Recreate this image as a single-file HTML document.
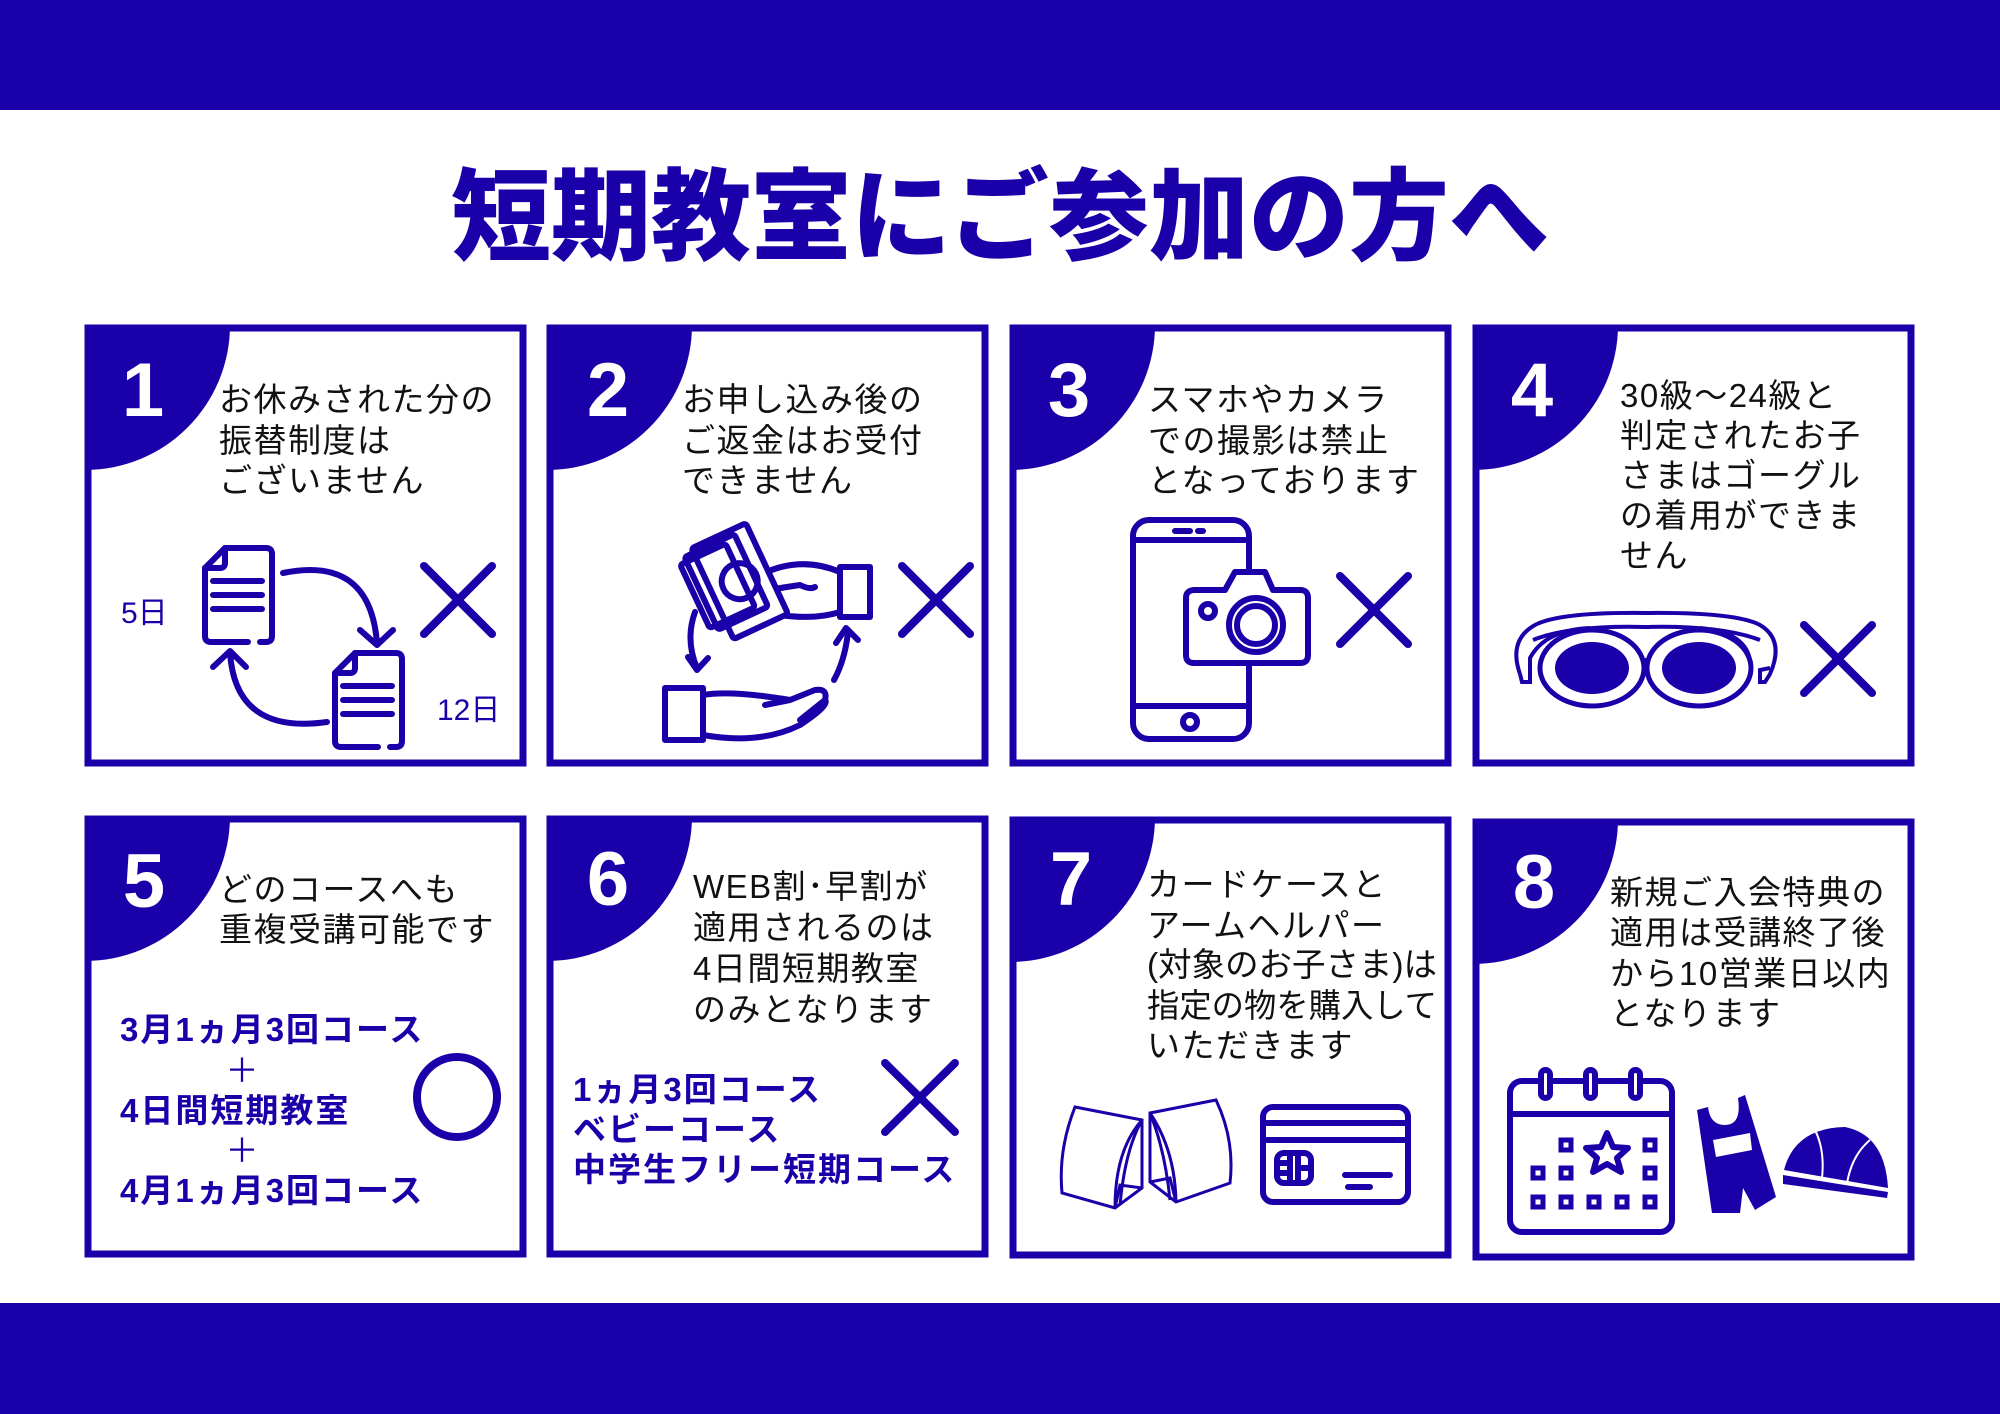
<!DOCTYPE html>
<html><head><meta charset="utf-8"><style>
html,body{margin:0;padding:0;background:#fff}
svg{display:block}
text{font-family:"Liberation Sans","Noto Sans CJK JP",sans-serif}
.t{font-size:33px;fill:#111;letter-spacing:1.5px}
.b{font-size:33px;fill:#1a00a8;font-weight:bold;letter-spacing:2px}
.n{font-size:76px;fill:#fff;font-weight:bold;text-anchor:middle}
.ic{fill:none;stroke:#1a00a8;stroke-width:6;stroke-linecap:round;stroke-linejoin:round}
.x{stroke:#1a00a8;stroke-width:8;stroke-linecap:round}
</style></head><body>
<svg width="2000" height="1414" viewBox="0 0 2000 1414" xmlns="http://www.w3.org/2000/svg">
<rect x="0" y="0" width="2000" height="110" fill="#1a00a8"/>
<rect x="0" y="1303" width="2000" height="111" fill="#1a00a8"/>
<text x="1000" y="252" text-anchor="middle" style="font-size:100px;font-weight:900;fill:#1a00a8">短期教室にご参加の方へ</text>

<g fill="none" stroke="#1a00a8" stroke-width="7">
<rect x="88" y="328" width="435" height="435"/>
<rect x="550" y="328" width="435" height="435"/>
<rect x="1013" y="328" width="435" height="435"/>
<rect x="1476" y="328" width="435" height="435"/>
<rect x="88" y="819" width="435" height="435"/>
<rect x="550" y="819" width="435" height="435"/>
<rect x="1013" y="820" width="435" height="435"/>
<rect x="1476" y="822" width="435" height="435"/>
</g>
<g fill="#1a00a8">
<path d="M85 325 H230 A145 145 0 0 1 85 470 Z"/>
<path d="M547 325 H692 A145 145 0 0 1 547 470 Z"/>
<path d="M1010 325 H1155 A145 145 0 0 1 1010 470 Z"/>
<path d="M1473 325 H1618 A145 145 0 0 1 1473 470 Z"/>
<path d="M85 816 H230 A145 145 0 0 1 85 961 Z"/>
<path d="M547 816 H692 A145 145 0 0 1 547 961 Z"/>
<path d="M1010 817 H1155 A145 145 0 0 1 1010 962 Z"/>
<path d="M1473 819 H1618 A145 145 0 0 1 1473 964 Z"/>
</g>
<text class="n" x="143" y="416">1</text>
<text class="n" x="608" y="416">2</text>
<text class="n" x="1069" y="416">3</text>
<text class="n" x="1532" y="416">4</text>
<text class="n" x="144" y="907">5</text>
<text class="n" x="608" y="905">6</text>
<text class="n" x="1071" y="905">7</text>
<text class="n" x="1534" y="908">8</text>

<g class="t">
<text x="219" y="411">お休みされた分の</text><text x="219" y="452">振替制度は</text><text x="219" y="492">ございません</text>
<text x="682" y="411">お申し込み後の</text><text x="682" y="452">ご返金はお受付</text><text x="682" y="492">できません</text>
<text x="1148" y="411">スマホやカメラ</text><text x="1148" y="452">での撮影は禁止</text><text x="1148" y="492">となっております</text>
<text x="1620" y="407">30級～24級と</text><text x="1620" y="447">判定されたお子</text><text x="1620" y="487">さまはゴーグル</text><text x="1620" y="527">の着用ができま</text><text x="1620" y="567">せん</text>
<text x="219" y="901">どのコースへも</text><text x="219" y="941">重複受講可能です</text>
<text x="693" y="898">WEB割･早割が</text><text x="693" y="939">適用されるのは</text><text x="693" y="980">4日間短期教室</text><text x="693" y="1021">のみとなります</text>
<text x="1147" y="896">カードケースと</text><text x="1147" y="937">アームヘルパー</text><text x="1147" y="976" textLength="290" lengthAdjust="spacingAndGlyphs" style="letter-spacing:0">(対象のお子さま)は</text><text x="1147" y="1017" textLength="290" lengthAdjust="spacingAndGlyphs" style="letter-spacing:0">指定の物を購入して</text><text x="1147" y="1057">いただきます</text>
<text x="1610" y="904">新規ご入会特典の</text><text x="1610" y="944">適用は受講終了後</text><text x="1610" y="985">から10営業日以内</text><text x="1610" y="1025">となります</text>
</g>

<g class="b">
<text x="120" y="1041">3月1ヵ月3回コース</text>
<text x="243" y="1082" text-anchor="middle" style="font-weight:normal">＋</text>
<text x="120" y="1122">4日間短期教室</text>
<text x="243" y="1162" text-anchor="middle" style="font-weight:normal">＋</text>
<text x="120" y="1202">4月1ヵ月3回コース</text>
<text x="573" y="1101">1ヵ月3回コース</text>
<text x="573" y="1141">ベビーコース</text>
<text x="573" y="1181">中学生フリー短期コース</text>
</g>
<circle cx="457" cy="1097" r="40" fill="none" stroke="#1a00a8" stroke-width="8"/>

<g class="x">
<line x1="424" y1="566" x2="492" y2="634"/><line x1="492" y1="566" x2="424" y2="634"/>
<line x1="902" y1="566" x2="970" y2="634"/><line x1="970" y1="566" x2="902" y2="634"/>
<line x1="1340" y1="576" x2="1408" y2="644"/><line x1="1408" y1="576" x2="1340" y2="644"/>
<line x1="1804" y1="625" x2="1872" y2="693"/><line x1="1872" y1="625" x2="1804" y2="693"/>
<line x1="885" y1="1063" x2="955" y2="1132"/><line x1="955" y1="1063" x2="885" y2="1132"/>
</g>

<text x="121" y="623" style="font-size:30px;fill:#1a00a8">5日</text>
<text x="437" y="720" style="font-size:30px;fill:#1a00a8">12日</text>
<g class="ic">
<path d="M248 642 H211 Q205 642 205 636 V568 L225 548 H266 Q272 548 272 554 V636 Q272 642 266 642 H260"/>
<path d="M205 568 H220 Q225 568 225 563 V548"/>
<path d="M213 581 H262 M213 595 H262 M213 609 H262"/>
<path d="M378 747 H341 Q335 747 335 741 V673 L355 653 H396 Q402 653 402 659 V741 Q402 747 396 747 H390"/>
<path d="M335 673 H350 Q355 673 355 668 V653"/>
<path d="M343 686 H392 M343 700 H392 M343 714 H392"/>
<path d="M283 573 Q370 555 377 643 M360 630 L377 645 L393 630"/>
<path d="M327 722 Q235 735 230 652 M213 667 L230 651 L246 667"/>
</g>

<g class="ic" stroke-width="5">
<rect x="840" y="567" width="30" height="50"/>
<rect x="665" y="688" width="38" height="52"/>
<path d="M840 572 Q800 555 760 575 L745 575 Q730 580 740 590 L770 590 Q785 587 800 585 Q810 590 815 587 M840 612 Q815 620 780 615 L755 618"/>
<path d="M703 695 Q730 690 790 700 L815 690 Q828 688 825 700 L800 720 M703 735 Q760 745 800 725 Q830 705 825 700 M790 700 L765 705"/>
<g transform="rotate(-25 740 570)"><rect x="705" y="530" width="60" height="100" rx="3" fill="#fff"/><rect x="695" y="535" width="55" height="80" rx="3"/><rect x="688" y="540" width="50" height="70" rx="3"/><circle cx="735" cy="580" r="18"/></g>
<path d="M695 612 Q685 640 697 668 M688 657 L697 670 L708 658"/>
<path d="M834 680 Q845 660 848 632 M836 643 L846 628 L858 640"/>
</g>

<g class="ic" stroke-width="5">
<rect x="1133" y="520" width="116" height="219" rx="16"/>
<path d="M1133 540 H1249 M1133 706 H1249 M1175 531 H1190 M1198 531 H1203"/>
<circle cx="1190" cy="722" r="7"/>
<path d="M1195 590 H1225 L1235 572 H1265 L1273 590 H1300 Q1308 590 1308 598 V655 Q1308 663 1300 663 H1194 Q1186 663 1186 655 V598 Q1186 590 1195 590 Z" fill="#fff"/>
<circle cx="1256" cy="625" r="27"/><circle cx="1256" cy="625" r="19"/><circle cx="1208" cy="611" r="7"/>
</g>

<g fill="none" stroke="#1a00a8" stroke-width="4">
<path d="M1520 674 Q1508 640 1535 625 Q1560 612 1645 613 Q1735 612 1760 625 Q1785 640 1770 674 L1765 682 L1760 682 L1760 670 L1770 668"/>
<path d="M1520 674 L1522 682 L1530 682 L1530 658 Q1545 630 1590 628 M1750 660 Q1745 632 1700 628 M1533 640 Q1570 625 1645 627 Q1720 625 1760 640"/>
<ellipse cx="1592" cy="668" rx="52" ry="38" stroke-width="5"/><ellipse cx="1699" cy="668" rx="52" ry="38" stroke-width="5"/>
<path d="M1644 660 H1647 M1644 672 H1647"/>
</g>
<ellipse cx="1592" cy="668" rx="37" ry="26" fill="#1a00a8"/><ellipse cx="1699" cy="668" rx="37" ry="26" fill="#1a00a8"/>

<g fill="none" stroke="#1a00a8" stroke-width="3">
<path d="M1075 1107 L1142 1120 L1142 1188 L1115 1208 L1062 1193 Q1058 1150 1075 1107 Z M1142 1120 Q1115 1150 1115 1208 M1142 1120 Q1125 1150 1120 1205 M1115 1208 L1120 1185 L1142 1188"/>
<path d="M1150 1113 L1216 1100 Q1235 1140 1230 1183 L1176 1202 L1150 1182 Z M1150 1113 Q1175 1150 1176 1202 M1150 1113 Q1165 1150 1170 1200 M1150 1182 L1170 1178 L1176 1202"/>
</g>
<g class="ic" stroke-width="5">
<rect x="1263" y="1107" width="145" height="95" rx="10"/>
<path d="M1263 1123 H1408 M1263 1140 H1408 M1345 1175 H1390 M1348 1187 H1370"/>
<rect x="1277" y="1153" width="34" height="30" rx="7"/>
<path d="M1290 1153 V1183 M1298 1153 V1183 M1277 1163 H1290 M1277 1173 H1290 M1298 1168 H1311"/>
</g>

<g class="ic" stroke-width="5">
<rect x="1510" y="1081" width="162" height="151" rx="12"/>
<path d="M1510 1114 H1672"/>
<rect x="1541" y="1070" width="9" height="28" rx="4.5" fill="#fff"/><rect x="1586" y="1070" width="9" height="28" rx="4.5" fill="#fff"/><rect x="1631" y="1070" width="9" height="28" rx="4.5" fill="#fff"/>
<path d="M1607 1133 L1613 1147 L1628 1148 L1617 1158 L1621 1172 L1607 1164 L1593 1172 L1597 1158 L1586 1148 L1601 1147 Z"/>
</g>
<g fill="none" stroke="#1a00a8" stroke-width="5">
<rect x="1561" y="1140" width="10" height="10"/><rect x="1645" y="1140" width="10" height="10"/>
<rect x="1533" y="1168" width="10" height="10"/><rect x="1561" y="1168" width="10" height="10"/><rect x="1645" y="1168" width="10" height="10"/>
<rect x="1533" y="1197" width="10" height="10"/><rect x="1561" y="1197" width="10" height="10"/><rect x="1589" y="1197" width="10" height="10"/><rect x="1617" y="1197" width="10" height="10"/><rect x="1645" y="1197" width="10" height="10"/>
</g>
<path d="M1697 1110 L1708 1107 Q1710 1125 1725 1125 Q1742 1125 1738 1098 L1745 1095 L1776 1197 L1755 1210 L1743 1188 L1740 1213 L1712 1213 Z" fill="#1a00a8"/>
<path d="M1713 1140 L1750 1133 L1752 1150 L1716 1157 Z" fill="#fff"/>
<path d="M1784 1170 Q1795 1128 1845 1127 Q1885 1135 1888 1188 Z" fill="#1a00a8"/>
<path d="M1783 1175 L1888 1192 L1887 1198 L1783 1184 Z" fill="#1a00a8"/>
<path d="M1815 1130 Q1825 1150 1822 1178 M1870 1140 Q1852 1155 1847 1183" stroke="#fff" stroke-width="2" fill="none"/>
</svg>
</body></html>
